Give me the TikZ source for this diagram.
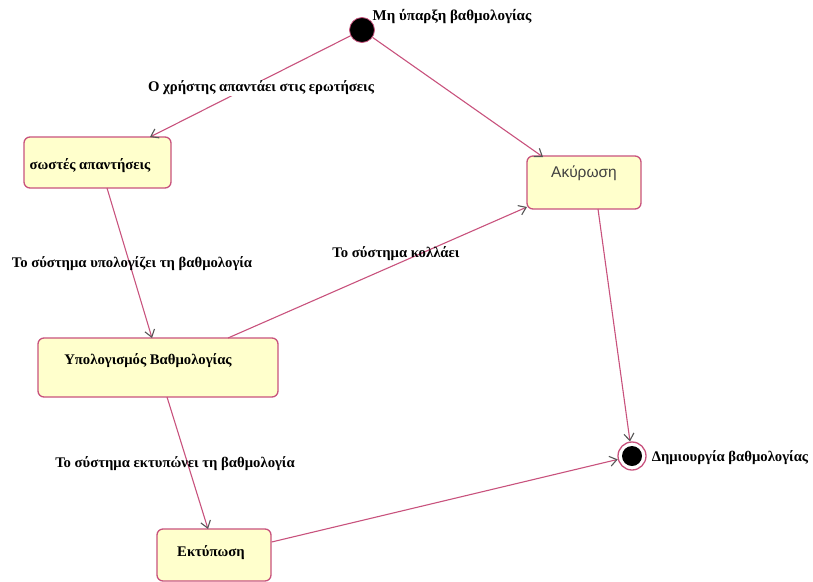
\documentclass[tikz,border=0pt]{standalone}
\usepackage{fontspec}
\setmainfont{Liberation Serif}
\newfontfamily\uisans{Liberation Sans}
\usetikzlibrary{arrows.meta}
\definecolor{edgecol}{RGB}{200,82,125}
\definecolor{statefill}{RGB}{255,255,204}
\definecolor{tipcol}{RGB}{85,85,85}
\tikzset{
  statebox/.style={draw=edgecol, line width=1.3pt, fill=statefill, rounded corners=6pt, inner sep=0pt},
  lbl/.style={font=\fontsize{14.7}{16}\selectfont\bfseries, inner sep=1pt, text=black},
  trans/.style={draw=edgecol, line width=1.1pt, -{Straight Barb[length=7pt,width=10pt,line width=1.1pt,color=tipcol]}},
}
\begin{document}
\begin{tikzpicture}[x=1pt,y=-1pt]
\useasboundingbox (0,0) rectangle (813,581);
% initial and final pseudo-states
\node[circle, fill=black, draw=edgecol, line width=0.8pt, minimum size=25pt, inner sep=0pt] (start) at (362,30) {};
\node[circle, draw=edgecol, line width=1.3pt, fill=white, minimum size=28pt, inner sep=0pt] (final) at (632,456) {};
\node[circle, fill=black, minimum size=20pt, inner sep=0pt] (finalin) at (632,456) {};
\node[lbl, font=\fontsize{15}{17}\selectfont\bfseries] (startlbl) at (452,17) {Μη ύπαρξη βαθμολογίας};
\node[lbl] (finallbl) at (730,458) {Δημιουργία βαθμολογίας};
% states
\node[statebox, minimum width=147pt, minimum height=51pt] (correct) at (97.5,162.5) {};
\node[lbl] (correcttxt) at (90,166) {σωστές απαντήσεις};
\node[statebox, minimum width=114pt, minimum height=53pt] (cancel) at (584,182.5) {};
\node[font=\uisans\fontsize{15.5}{17}\selectfont, text=black!75] (canceltxt) at (584,173) {Ακύρωση};
\node[statebox, minimum width=240pt, minimum height=59pt] (compute) at (158,367.5) {};
\node[lbl] (computetxt) at (148,361) {Υπολογισμός Βαθμολογίας};
\node[statebox, minimum width=114pt, minimum height=52pt] (print) at (214,555) {};
\node[lbl] (printtxt) at (211,553) {Εκτύπωση};
% transitions
\draw[trans] (start) -- (150,137);
\node[lbl, fill=white] (lblanswer) at (261,88) {Ο χρήστης απαντάει στις ερωτήσεις};
\draw[trans] (start) -- (543,157);
\draw[trans] (107,188) -- (152,338);
\node[lbl] (lblcompute) at (132,264) {Το σύστημα υπολογίζει τη βαθμολογία};
\draw[trans] (228,338) -- (527,207);
\node[lbl] (lblcrash) at (396,254) {Το σύστημα κολλάει};
\draw[trans] (167,397) -- (208,529);
\node[lbl] (lblprint) at (175,464) {Το σύστημα εκτυπώνει τη βαθμολογία};
\draw[trans] (598,209) -- (final);
\draw[trans] (print.east |- 0,542) -- (final);
\end{tikzpicture}
\end{document}
